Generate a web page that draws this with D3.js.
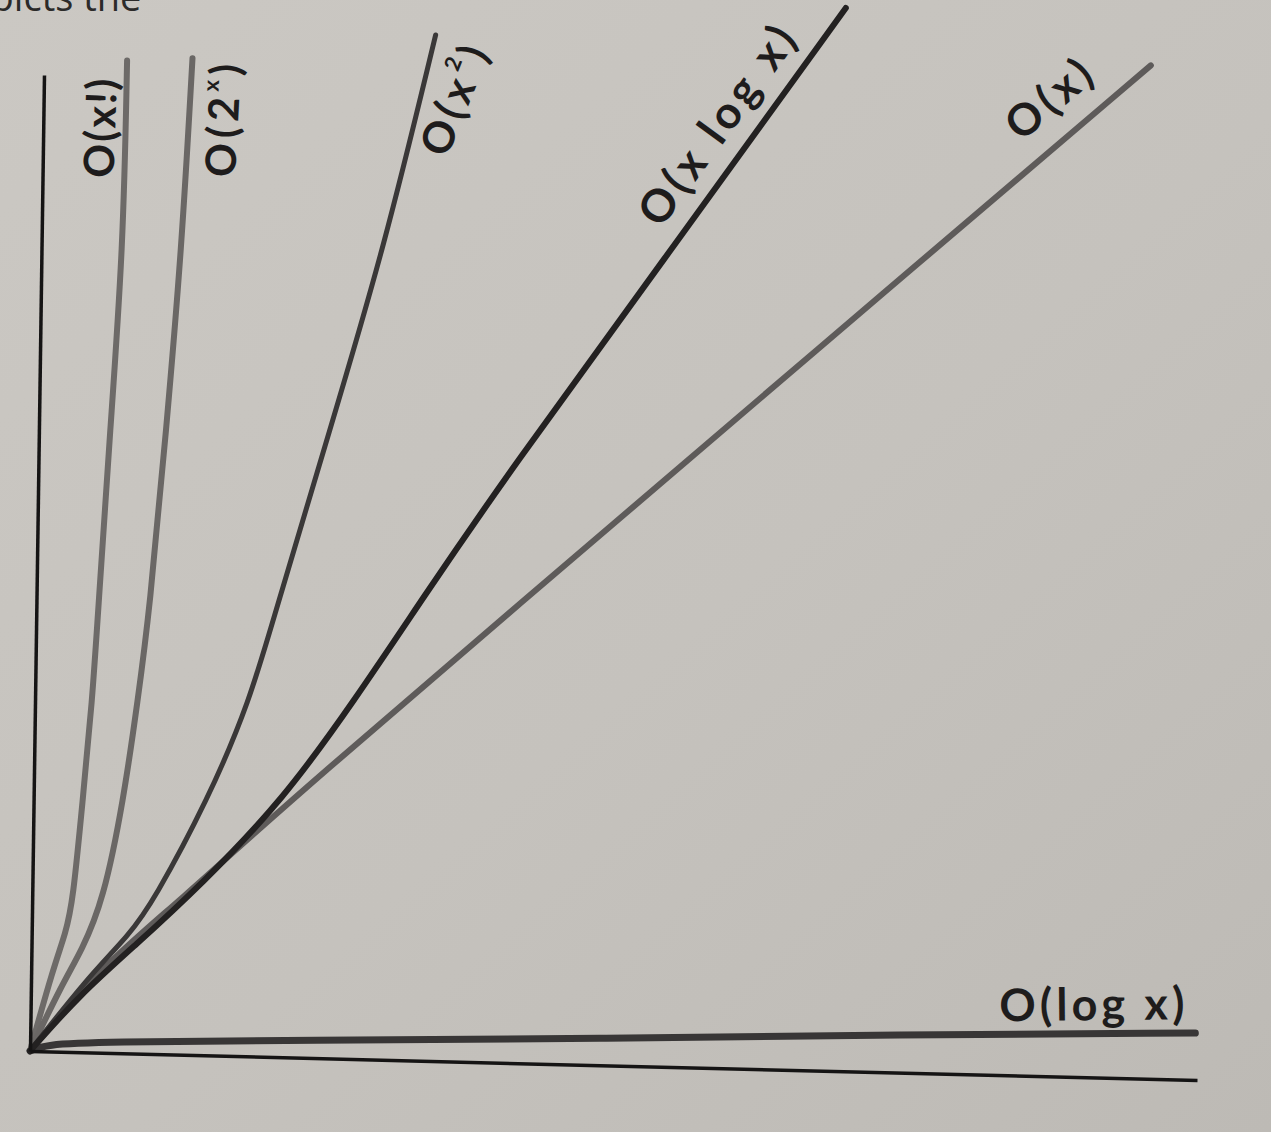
<!DOCTYPE html>
<html>
<head>
<meta charset="utf-8">
<script src="https://cdn.jsdelivr.net/npm/d3@7"></script>
<style>
  html, body { margin: 0; padding: 0; background: #c6c3be; }
  svg { display: block; }
</style>
</head>
<body>
<svg id="chart" width="1271" height="1132"></svg>
<script>
// ---- data (abstract units 0..10 on both axes) ----
const seriesNames = ["O(x!)", "O(2^x)", "O(x^2)", "O(x log x)", "O(x)", "O(log x)"];
const factorialPts    = [[0,0],[0.19,0.86],[0.29,1.21],[0.35,1.55],[0.42,2.58],[0.49,3.60],[0.53,4.53],[0.61,6.38],[0.70,8.23],[0.71,10.17]];
const exponentialPts  = [[0,0],[0.27,0.70],[0.43,1.04],[0.61,1.56],[0.77,2.59],[0.88,3.62],[0.97,4.54],[1.09,6.39],[1.20,8.24],[1.27,10.21]];
const quadraticPts    = [[0,0],[0.48,0.76],[0.84,1.22],[1.04,1.57],[1.49,2.61],[1.84,3.64],[2.05,4.57],[2.49,6.43],[2.93,8.29],[3.35,10.51]];
const linearithmicPts = [[0,0],[0.42,0.59],[0.89,1.11],[1.44,1.74],[2.14,2.64],[2.74,3.68],[3.30,4.72],[4.00,6.00],[5.47,8.50],[6.86,10.89]];
const linearPts       = [[0,0],[0.59,0.87],[1.27,1.58],[2.20,2.64],[5.17,5.80],[7.15,7.91],[9.48,10.38]];
const logarithmicPts  = [[0,0],[0.13,0.07],[0.60,0.11],[2.31,0.18],[4.88,0.27],[7.45,0.39],[9.98,0.48]];
const xDomain = [0, 10];
const yDomain = [0, 10];

// ---- layout / style (kept apart from data) ----
const W = 1167, H = 976;
// slight perspective of the photographed page: affine map of the plot frame
const M = {a: 1, b: 0.02485, c: -0.01434, d: 1, e: 30, f: 1051};
const styles = [
  {stroke: "#6d6a68", width: 6},
  {stroke: "#6a6765", width: 6},
  {stroke: "#3a3838", width: 5},
  {stroke: "#232121", width: 6},
  {stroke: "#5e5b5a", width: 6},
  {stroke: "#383636", width: 7}
];
// label anchors (data units), rotation (deg, screen), text length (px), font size
const labelLayout = [
  {x: 0.48, y: 9.47, rot: -88, len: 99, fs: 42},
  {x: 1.53, y: 9.58, rot: -87, len: 113, fs: 42},
  {x: 3.50, y: 9.85, rot: -68, len: 114, fs: 43},
  {x: 5.76, y: 9.66, rot: -54, len: 234, fs: 45},
  {x: 8.60, y: 10.02, rot: -40, len: 98, fs: 44},
  {x: 9.09, y: 0.76, rot: -0.6, len: 185, fs: 45}
];

const svg = d3.select("#chart");

// paper background
const defs = svg.append("defs");
const grad = defs.append("linearGradient").attr("id", "paper")
  .attr("x1", "0").attr("y1", "0").attr("x2", "1").attr("y2", "1");
grad.append("stop").attr("offset", "0%").attr("stop-color", "#cbc8c3");
grad.append("stop").attr("offset", "55%").attr("stop-color", "#c5c2bd");
grad.append("stop").attr("offset", "100%").attr("stop-color", "#bdbab5");
svg.append("rect").attr("width", 1271).attr("height", 1132).attr("fill", "url(#paper)");

// cut-off line of book text at the very top (only its lower part is visible)
svg.append("text")
  .attr("x", -54).attr("y", 11)
  .attr("font-family", "'Open Sans', sans-serif")
  .attr("font-size", 38)
  .attr("fill", "#2b2a29")
  .text("depicts the");

const x = d3.scaleLinear().domain(xDomain).range([0, W]);
const y = d3.scaleLinear().domain(yDomain).range([0, -H]);

const plot = svg.append("g")
  .attr("transform", `matrix(${M.a},${M.b},${M.c},${M.d},${M.e},${M.f})`);

const line = d3.line()
  .x(d => x(d[0]))
  .y(d => y(d[1]))
  .curve(d3.curveBasis);

const allSeries = [factorialPts, exponentialPts, quadraticPts, linearithmicPts, linearPts, logarithmicPts];

// draw lighter lines first, dark ones on top
const drawOrder = [0, 1, 4, 2, 5, 3];
drawOrder.forEach(i => {
  plot.append("path")
    .datum(allSeries[i])
    .attr("d", line)
    .attr("fill", "none")
    .attr("stroke", styles[i].stroke)
    .attr("stroke-width", styles[i].width)
    .attr("stroke-linecap", "round")
    .attr("stroke-linejoin", "round");
});

// axes (no ticks, just the domain lines)
const xAxis = plot.append("g")
  .call(d3.axisBottom(x).ticks(0).tickSizeOuter(0));
const yAxis = plot.append("g")
  .call(d3.axisLeft(y).ticks(0).tickSizeOuter(0));
[xAxis, yAxis].forEach(g => {
  g.select(".domain").attr("stroke", "#151414").attr("stroke-width", 3.5);
  g.selectAll("text").remove();
});

// map data coordinates to screen
function toScreen(xv, yv) {
  const u = x(xv), w = y(yv);
  return [M.a * u + M.c * w + M.e, M.b * u + M.d * w + M.f];
}

// labels
const labelParts = [
  [["O(x!)", false]],
  [["O(2", false], ["x", true], [")", false]],
  [["O(x", false], ["2", true], [")", false]],
  [["O(x log x)", false]],
  [["O(x)", false]],
  [["O(log x)", false]]
];

labelLayout.forEach((L, i) => {
  const [sx, sy] = toScreen(L.x, L.y);
  const t = svg.append("text")
    .attr("transform", `translate(${sx},${sy}) rotate(${L.rot})`)
    .attr("text-anchor", "middle")
    .attr("dominant-baseline", "central")
    .attr("font-family", "Lato, 'Noto Sans', sans-serif")
    .attr("font-weight", 700)
    .attr("font-size", L.fs)
    .attr("fill", "#1e1c1c")
    .attr("textLength", L.len)
    .attr("lengthAdjust", "spacing")
    .attr("aria-label", seriesNames[i]);
  labelParts[i].forEach(([s, sup]) => {
    const ts = t.append("tspan").text(s);
    if (sup) ts.attr("font-size", 22).attr("dy", -14);
    else if (t.selectAll("tspan").size() > 1) ts.attr("dy", 14);
  });
});
</script>
</body>
</html>
